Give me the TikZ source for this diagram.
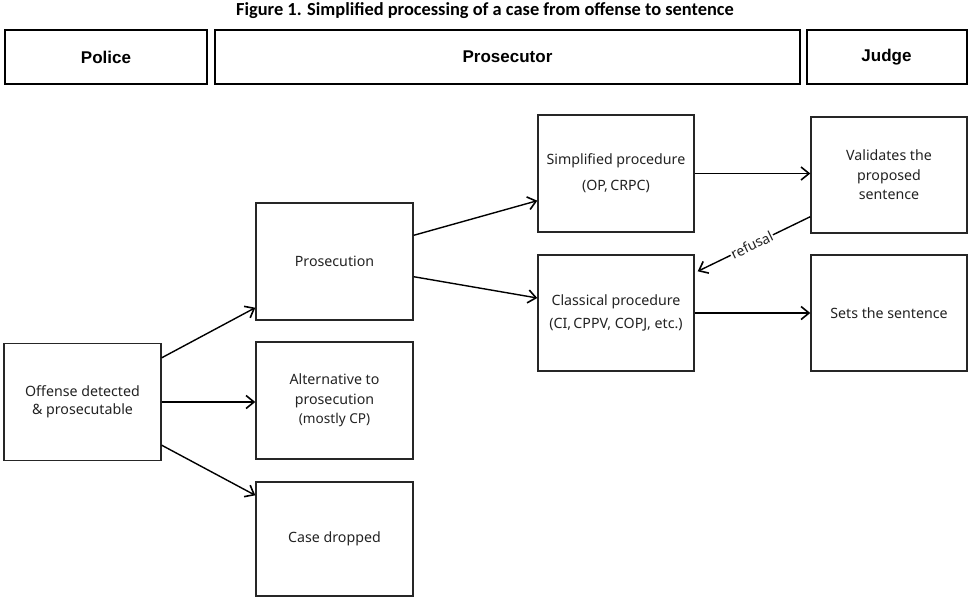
\documentclass[tikz,border=0pt]{standalone}
\usepackage{fontspec}
\setmainfont{Noto Sans}
\newfontfamily\titlefont{Carlito}
\newfontfamily\headfont{Liberation Sans}
\usetikzlibrary{arrows.meta,calc}
\definecolor{txt}{HTML}{222222}
\tikzset{
  header/.style={draw=black, line width=2pt, minimum height=54pt, inner sep=0pt,
    font=\headfont\bfseries\fontsize{17}{19}\selectfont},
  flowbox/.style={draw=black!85, line width=1.4pt, minimum width=157pt, minimum height=117pt,
    inner sep=0pt, align=center, text=txt, font=\fontsize{14.2}{19.5}\selectfont},
  flowarrow/.style={draw=black, line width=1.4pt, -{Straight Barb[length=8pt,width=13pt,line width=1.6pt]}},
}
\begin{document}
\begin{tikzpicture}[x=1pt,y=-1pt]
\useasboundingbox (0,0) rectangle (969,598);
\node (title) at (485,11) {\titlefont\bfseries\fontsize{18.4}{20}\selectfont Figure 1. Simplified processing of a case from offense to sentence};
\node[header, minimum width=202pt] (police) at (106,57) {Police};
\node[header, minimum width=585pt] (prosecutor) at (507.5,57) {Prosecutor};
\node[header, minimum width=160pt] (judge) at (886.5,57) {Judge};

\node[flowbox] (offense) at (82.5,402) {Offense detected\\[-1pt]\& prosecutable};
\node[flowbox] (prosecution) at (334.5,261.5) {Prosecution};
\node[flowbox] (alternative) at (334.5,400.5) {Alternative to\\prosecution\\{\fontsize{13.6}{19.5}\selectfont (mostly CP)}};
\node[flowbox, minimum height=114pt] (dropped) at (334.5,539) {Case dropped};
\node[flowbox, minimum width=156pt] (simplified) at (616,173.5) {\raisebox{3pt}{\begin{tabular}{@{}c@{}}Simplified procedure\\[6pt](OP,\,CRPC)\end{tabular}}};
\node[flowbox, minimum width=156pt, minimum height=116pt] (classical) at (616,313) {\raisebox{5pt}{\begin{tabular}{@{}c@{}}Classical procedure\\[4pt](CI,\,CPPV, COPJ, etc.)\end{tabular}}};
\node[flowbox, minimum width=156pt, minimum height=116pt] (validates) at (889,175) {Validates the\\proposed\\sentence};
\node[flowbox, minimum width=156pt, minimum height=116pt] (sets) at (889,313) {Sets the sentence};

\draw[flowarrow] ($(offense.north east)+(0,15)$) -- ($(prosecution.south west)+(0,-13)$);
\draw[flowarrow] (offense.east) -- (offense.east -| alternative.west);
\draw[flowarrow] ($(offense.south east)+(0,-16)$) -- ($(dropped.north west)+(0,14)$);
\draw[flowarrow] ($(prosecution.north east)+(0,33)$) -- ($(simplified.south west)+(0,-32)$);
\draw[flowarrow] ($(prosecution.south east)+(0,-44)$) -- ($(classical.west)+(0,-15)$);
\draw[flowarrow] (simplified.east) -- (simplified.east -| validates.west);
\draw[flowarrow] (classical.east) -- (classical.east -| sets.west);
\draw[flowarrow] ($(validates.south west)+(0,-17)$) -- node[pos=0.52, sloped, fill=white, inner sep=0.8pt, text=txt, font=\fontsize{14}{15}\selectfont] (refusal) {refusal} ($(classical.north east)+(3,17)$);
\end{tikzpicture}
\end{document}
